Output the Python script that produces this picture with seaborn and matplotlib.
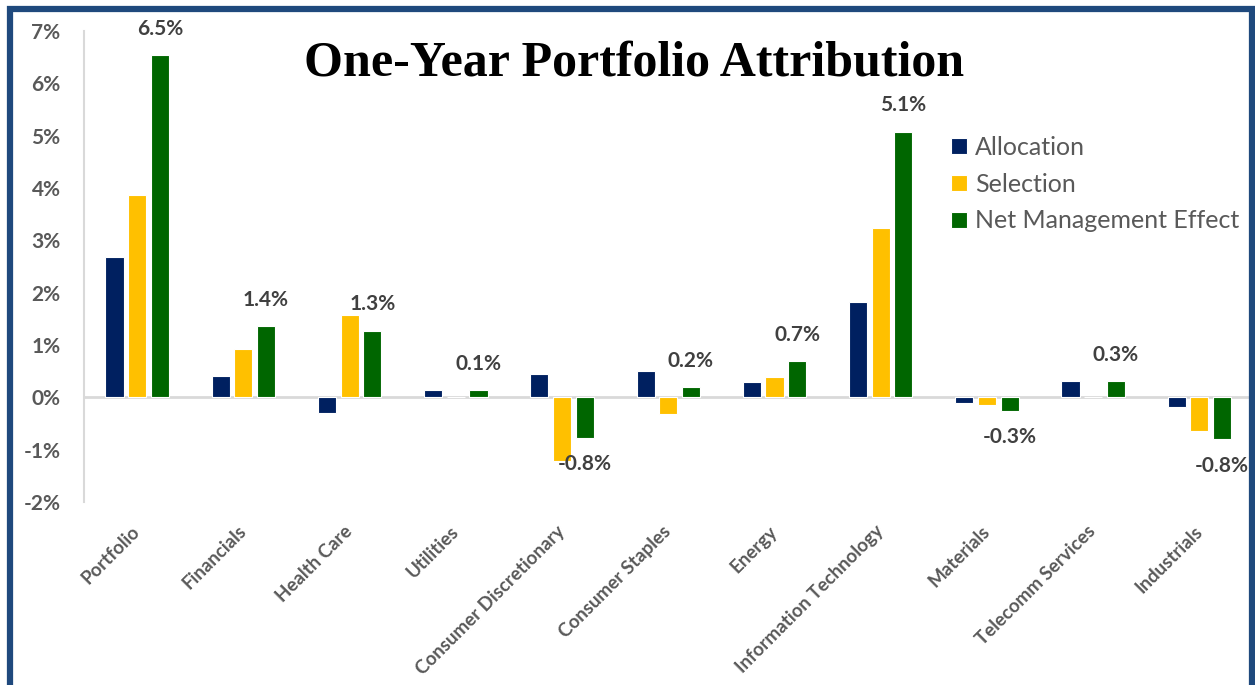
import matplotlib.pyplot as plt
import matplotlib.patches as mpatches
import seaborn as sns
import pandas as pd

# values (percent)
categories = ['Portfolio', 'Financials', 'Health Care', 'Utilities', 'Consumer Discretionary',
              'Consumer Staples', 'Energy', 'Information Technology', 'Materials',
              'Telecomm Services', 'Industrials']
allocation = [2.68, 0.41, -0.30, 0.14, 0.44, 0.50, 0.30, 1.82, -0.11, 0.31, -0.18]
selection = [3.87, 0.93, 1.57, 0.00, -1.22, -0.31, 0.39, 3.24, -0.15, 0.00, -0.64]
net_effect = [6.53, 1.36, 1.27, 0.14, -0.77, 0.19, 0.69, 5.07, -0.26, 0.31, -0.80]
series = ['Allocation', 'Selection', 'Net Management Effect']
colors = ['#002060', '#FFC000', '#006600']
yticks = [-2, -1, 0, 1, 2, 3, 4, 5, 6, 7]

df = pd.DataFrame({'Sector': categories * 3,
                   'Series': [s for s in series for _ in categories],
                   'Value': allocation + selection + net_effect})

sns.set_style('white')
plt.rcParams['font.family'] = ['Lato', 'DejaVu Sans']

fig = plt.figure(figsize=(12.55, 6.85), dpi=100)
ax = fig.add_axes([0.067, 0.267, 0.931, 0.688])

sns.barplot(data=df, x='Sector', y='Value', hue='Series', order=categories,
            hue_order=series, palette=colors, saturation=1, width=0.64, gap=0.2,
            edgecolor='white', linewidth=0.8, ax=ax)

ax.set_ylim(-2, 7)
ax.set_xlim(-0.5, len(categories) - 0.5)
ax.set_yticks(yticks)
ax.set_yticklabels([f'{t}%' for t in yticks], fontsize=15, fontweight='bold', color='#595959')
ax.tick_params(axis='y', length=0, pad=17)
ax.tick_params(axis='x', length=0, pad=19)
plt.setp(ax.get_xticklabels(), rotation=45, ha='right', va='center', rotation_mode='anchor',
         fontsize=13.5, fontweight='bold', color='#595959')
ax.set_xlabel('')
ax.set_ylabel('')
for s in ['top', 'right', 'bottom']:
    ax.spines[s].set_visible(False)
ax.spines['left'].set_color('#D9D9D9')
ax.spines['left'].set_linewidth(1.5)
ax.axhline(0, color='#D9D9D9', linewidth=2, zorder=0.5)

# net management effect labels
net_bars = ax.containers[2]
for bar, v in zip(net_bars, net_effect):
    x = bar.get_x() + bar.get_width() / 2
    off = 19 if v >= 0 else -19
    ax.annotate(f'{v:.1f}%', (x, v), xytext=(0, off), textcoords='offset points',
                ha='center', va='center', fontsize=15, fontweight='bold', color='#404040')

ax.legend(loc='upper left', bbox_to_anchor=(0.742, 0.777), frameon=False, fontsize=18,
          borderpad=0, borderaxespad=0,
          handlelength=0.62, handleheight=0.62, handletextpad=0.35, labelspacing=0.55,
          labelcolor='#595959')

fig.text(0.505, 0.908, 'One-Year Portfolio Attribution', ha='center', va='center',
         fontsize=36, fontweight='bold', family='Liberation Serif', color='black')

# dark blue frame around the chart
fig.patches.append(mpatches.Rectangle((10 / 1255, -0.05), 1242 / 1255, 1 - 9 / 685 + 0.05,
                                      transform=fig.transFigure, fill=False,
                                      edgecolor='#1F497D', linewidth=4.5))

fig.savefig('out.png', dpi=100)
